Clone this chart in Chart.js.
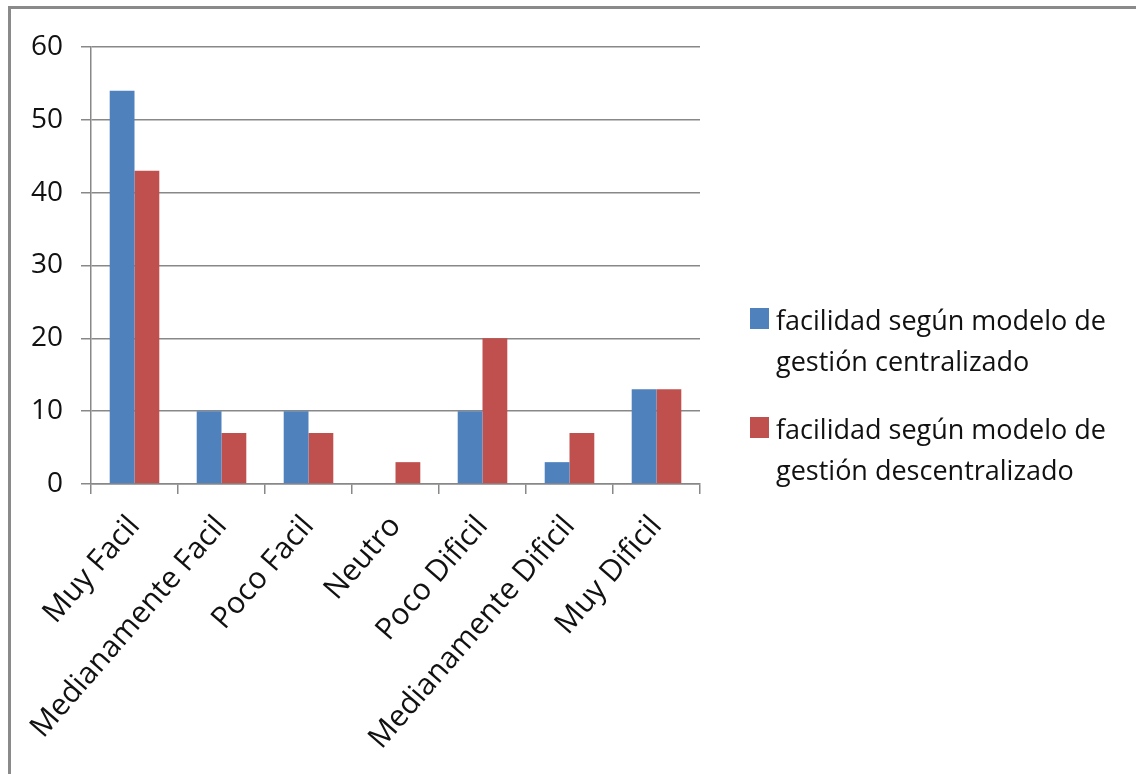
<!DOCTYPE html>
<html>
<head>
<meta charset="utf-8">
<script src="https://cdn.jsdelivr.net/npm/chart.js@4/dist/chart.umd.min.js"></script>
<style>
  html, body { margin: 0; padding: 0; background: #fff; }
  #wrap { position: relative; width: 1136px; height: 774px; overflow: hidden; }
  #frame { position: absolute; left: 8px; top: 6px; width: 1140px; height: 800px;
           border-left: 3px solid #8a8a8a; border-top: 3px solid #8a8a8a; box-sizing: border-box; }
  #myChart { position: absolute; left: 0; top: 0; }
  #legend { position: absolute; left: 750px; top: 299px; font-family: "Open Sans", sans-serif;
            font-size: 27px; color: #111; line-height: 41px; }
  .item { position: relative; padding-left: 26px; margin-bottom: 27px; }
  .box { position: absolute; left: 0; top: 9px; width: 19px; height: 21px; }
</style>
</head>
<body>
<div id="wrap">
  <div id="frame"></div>
  <canvas id="myChart" width="1136" height="774"></canvas>
  <div id="legend"></div>
</div>
<script>
var categories = ["Muy Facil", "Medianamente Facil", "Poco Facil", "Neutro", "Poco Dificil", "Medianamente Dificil", "Muy Dificil"];
var centralizado = [54, 10, 10, 0, 10, 3, 13];
var descentralizado = [43, 7, 7, 3, 20, 7, 13];
var seriesNames = [
  ["facilidad según modelo de", "gestión centralizado"],
  ["facilidad según modelo de", "gestión descentralizado"]
];
var yTicks = [0, 10, 20, 30, 40, 50, 60];

var colors = ["#4F81BD", "#C0504D"];

var ctx = document.getElementById("myChart");
var myBarChart = new Chart(ctx, {
  type: 'bar',
  data: {
    labels: categories,
    datasets: [
      { label: seriesNames[0].join(" "), data: centralizado, backgroundColor: colors[0] },
      { label: seriesNames[1].join(" "), data: descentralizado, backgroundColor: colors[1] }
    ]
  },
  options: {
    responsive: false,
    animation: false,
    layout: { padding: { top: 47, right: 436, left: 0, bottom: 0 } },
    plugins: { legend: { display: false }, tooltip: { enabled: false } },
    datasets: { bar: { barPercentage: 1, categoryPercentage: 0.57 } },
    scales: {
      x: {
        afterFit: function (s) { s.height = 290; },
        grid: { display: true, drawOnChartArea: false, offset: true, tickLength: 10, color: '#888', lineWidth: 1.5 },
        border: { display: true, color: '#888', width: 1.5 },
        ticks: { minRotation: 49, maxRotation: 49, color: '#111', padding: 15,
                 font: { family: 'Open Sans', size: 30 } }
      },
      y: {
        min: 0, max: 60,
        afterFit: function (s) { s.width = 91; },
        afterBuildTicks: function (s) { s.ticks = yTicks.map(function (v) { return { value: v }; }); },
        grid: { color: '#888', lineWidth: 1.5, tickLength: 10 },
        border: { display: true, color: '#888', width: 1.5 },
        ticks: { color: '#111', padding: 18, font: { family: 'Open Sans', size: 28 } }
      }
    }
  }
});

var legend = document.getElementById("legend");
seriesNames.forEach(function (lines, i) {
  var item = document.createElement("div");
  item.className = "item";
  item.innerHTML = '<span class="box" style="background:' + colors[i] + '"></span>' + lines.join("<br>");
  legend.appendChild(item);
});
</script>
</body>
</html>
